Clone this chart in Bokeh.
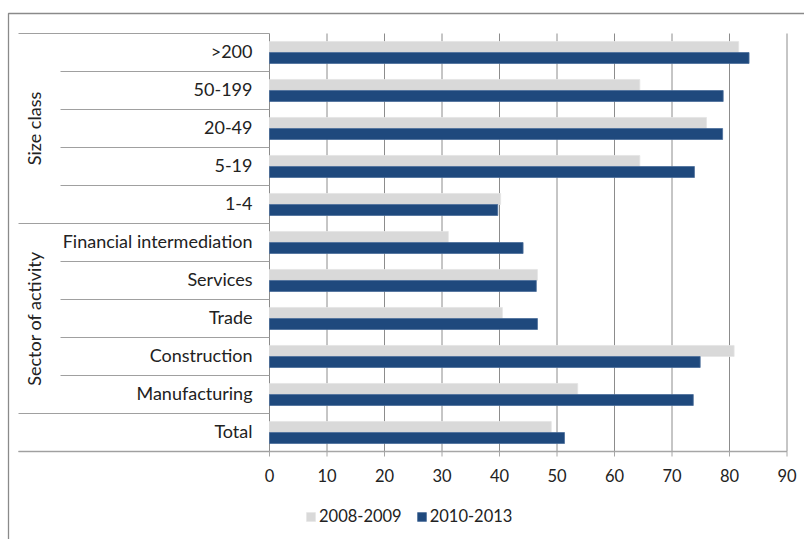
import math

from bokeh.core.properties import value
from bokeh.embed import file_html
from bokeh.models import ColumnDataSource, Legend, LegendItem, Range1d
from bokeh.plotting import figure
from bokeh.resources import INLINE

# ---- data -------------------------------------------------------------
categories = ["Total", "Manufacturing", "Construction", "Trade", "Services",
              "Financial intermediation", "1-4", "5-19", "20-49", "50-199", ">200"]
series_names = ["2008-2009", "2010-2013"]
values_2008_2009 = [49.0, 53.6, 80.8, 40.5, 46.6, 31.1, 40.2, 64.4, 76.0, 64.4, 81.6]
values_2010_2013 = [51.3, 73.7, 74.9, 46.6, 46.4, 44.1, 39.7, 73.9, 78.8, 78.9, 83.4]
group_names = ["Sector of activity", "Size class"]
group_spans = [(1, 6), (6, 11)]          # category index ranges [start, end)
x_ticks = [0, 10, 20, 30, 40, 50, 60, 70, 80, 90]

# ---- layout (pixels) ----------------------------------------------------
W, H = 804, 539
X0_PX = 269          # horizontal position of value 0
PX_PER_UNIT = 5.75   # pixels per percentage point
Y0_PX = 451          # bottom edge of the category block
ROW_PX = 38          # height of one category row

FONT_NAME = "Lato"
FONT = value(FONT_NAME)
LABEL_SIZE = "18px"
NUMBER_SIZE = "16.5px"
TEXT_COLOR = "#222222"
GRID_COLOR = "#8c8c8c"
GRAY = "#d9d9d9"
BLUE = "#1f497d"


def xd(px):
    return (px - X0_PX) / PX_PER_UNIT


def yd(py):
    return (Y0_PX - py) / ROW_PX


n = len(categories)

p = figure(width=W, height=H, output_backend="svg", toolbar_location=None,
           x_range=Range1d(xd(0), xd(W)), y_range=Range1d(yd(H), yd(0)),
           x_axis_location=None, y_axis_location=None,
           min_border=0, min_border_left=0, min_border_right=0,
           min_border_top=0, min_border_bottom=0)
p.grid.visible = False
p.outline_line_color = None
p.background_fill_color = "white"
p.border_fill_color = "white"

# chart border (left and top edges)
p.line(x=[xd(8), xd(8), xd(W)], y=[yd(H), yd(13), yd(13)],
       line_color="#8a8a8a", line_width=1.3)

# vertical value gridlines and tick marks
p.segment(x0=x_ticks, y0=[0] * len(x_ticks), x1=x_ticks, y1=[n] * len(x_ticks),
          line_color=GRID_COLOR, line_width=1)
p.segment(x0=x_ticks, y0=[0] * len(x_ticks), x1=x_ticks, y1=[yd(456)] * len(x_ticks),
          line_color="#a6a6a6", line_width=1)
# bottom axis line, running under the category labels too
p.segment(x0=[xd(18)], y0=[0], x1=[x_ticks[-1]], y1=[0],
          line_color="#a6a6a6", line_width=1.3)

# category separators: long ones at group edges, short ones inside groups
group_edges = {0, n}
for a, b in group_spans:
    group_edges.update({a, b})
sep_y = list(range(n + 1))
sep_x0 = [xd(18) if k in group_edges else xd(60) for k in sep_y]
p.segment(x0=sep_x0, y0=sep_y, x1=[0] * len(sep_y), y1=sep_y,
          line_color="#a0a0a0", line_width=1)

# bars
src = ColumnDataSource(dict(
    cat=categories,
    y_a=[i + 0.645 for i in range(n)],
    y_b=[i + 0.355 for i in range(n)],
    v_a=values_2008_2009,
    v_b=values_2010_2013,
))
r_a = p.hbar(y="y_a", left=0, right="v_a", height=0.289, source=src,
             fill_color=GRAY, line_color="#e4e4e4", line_width=0.8)
r_b = p.hbar(y="y_b", left=0, right="v_b", height=0.289, source=src,
             fill_color=BLUE, line_color="#4a6d99", line_width=0.8)

# category labels
p.text(x=[xd(252)] * n, y=[i + 0.53 for i in range(n)], text=categories,
       text_align="right", text_baseline="middle", text_font=FONT,
       text_font_size=LABEL_SIZE, text_color=TEXT_COLOR)

# group labels (rotated)
p.text(x=[xd(33)] * len(group_names), y=[(a + b) / 2 for a, b in group_spans],
       text=group_names, angle=math.pi / 2, text_align="center",
       text_baseline="middle", text_font=FONT, text_font_size=LABEL_SIZE,
       text_color=TEXT_COLOR)

# value tick labels
p.text(x=x_ticks, y=[yd(475)] * len(x_ticks), text=[str(t) for t in x_ticks],
       text_align="center", text_baseline="middle", text_font=FONT,
       text_font_size=NUMBER_SIZE, text_color=TEXT_COLOR)

legend = Legend(items=[LegendItem(label=series_names[0], renderers=[r_a]),
                       LegendItem(label=series_names[1], renderers=[r_b])],
                location=(305, 13), orientation="horizontal",
                glyph_width=11, glyph_height=11, label_standoff=3, spacing=14,
                padding=0, margin=0, border_line_alpha=0,
                background_fill_alpha=0, label_text_font=FONT_NAME,
                label_text_font_size=NUMBER_SIZE, label_text_color=TEXT_COLOR,
                label_height=11)
p.add_layout(legend)

open("out.html", "w").write(file_html(p, INLINE))
